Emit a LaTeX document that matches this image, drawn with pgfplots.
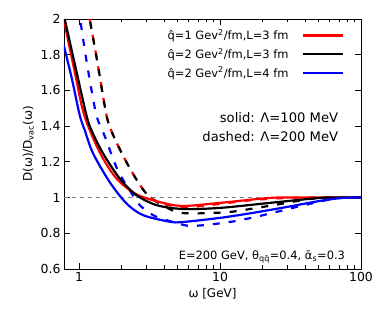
\documentclass[border=0pt]{standalone}
\usepackage{pgfplots}
\pgfplotsset{compat=1.18}
\usepackage{fontspec}
\setmainfont{DejaVu Sans}
\begin{document}
\begin{tikzpicture}
\begin{axis}[
  at={(0,0)}, anchor=south west,
  scale only axis, width=297bp, height=250bp,
  xmode=log, xmin=0.78, xmax=100, ymin=0.6, ymax=2,
  xtick={1,10,100}, xticklabels={1,10,100},
  ytick={0.6,0.8,1.0,1.2,1.4,1.6,1.8,2.0}, yticklabels={0.6,0.8,1,1.2,1.4,1.6,1.8,2},
  /pgf/number format/assume math mode=true,
  tick align=inside, major tick length=6bp, minor tick length=3.5bp,
  axis line style={line width=0.9pt}, every tick/.style={line width=0.8pt, black},
  tick label style={font=\fontsize{12.5}{14}\selectfont},
  label style={font=\fontsize{12}{14}\selectfont},
  xlabel={ω [GeV]}, ylabel={D(ω)/D\textsubscript{vac}(ω)},
  legend style={draw=none, fill=none, at={(0.946,0.97)}, anchor=north east,
    font=\fontsize{11.5}{13}\selectfont, row sep=2.8bp, column sep=11bp, inner sep=1bp},
  legend cell align=right,
  legend plot pos=right,
  legend image code/.code={\draw[#1] (0bp,0bp) -- (40bp,0bp);},
]
\addplot[forget plot, gray, line width=0.8pt, dash pattern=on 4bp off 4bp] coordinates {(0.78,1) (100,1)};
% dashed (Lambda = 200 MeV)
\addplot[forget plot, blue, line width=2.2pt, smooth, dash pattern=on 7bp off 9bp] coordinates {(1.025,1.977) (1.149,1.725) (1.324,1.462) (1.516,1.345) (1.875,1.154) (2.28,1.042) (2.686,0.958) (3.43,0.897) (4.91,0.858) (6.38,0.841) (11.67,0.863) (19.1,0.897) (32.7,0.942) (56.9,0.986) (76,1.0) (100,1.0)};
\addplot[forget plot, red, line width=2.2pt, smooth, dash pattern=on 7bp off 9bp] coordinates {(1.187,2.0) (1.353,1.748) (1.56,1.462) (1.728,1.356) (1.969,1.261) (2.28,1.166) (2.64,1.082) (3.06,1.014) (3.72,0.970) (4.76,0.953) (6.08,0.947) (9.92,0.964) (17,0.986) (29.6,0.998) (40,1.0) (100,1.0)};
\addplot[forget plot, black, line width=2.2pt, smooth, dash pattern=on 7bp off 9bp, dash phase=13bp] coordinates {(1.187,2.0) (1.353,1.748) (1.56,1.462) (1.728,1.356) (1.969,1.261) (2.28,1.166) (2.64,1.082) (3.06,1.014) (3.72,0.967) (4.91,0.919) (6.38,0.911) (8.42,0.914) (11.67,0.919) (18.2,0.942) (29.6,0.970) (43.1,0.992) (60,1.0) (100,1.0)};
% solid (Lambda = 100 MeV)
\addplot[red, line width=2.2pt, smooth] coordinates {(0.776,2.0) (0.93,1.703) (1.085,1.462) (1.41,1.248) (1.84,1.107) (2.52,1.02) (3.72,0.975) (5.42,0.953) (9.92,0.970) (22.4,0.998) (36.5,1.0) (100,1.0)};
\addlegendentry{\^q=1 Gev\textsuperscript{2}/fm,L=3 fm}
\addplot[black, line width=2.2pt, smooth] coordinates {(0.789,2.0) (0.96,1.70) (1.125,1.462) (1.22,1.378) (1.475,1.248) (1.937,1.107) (2.546,1.014) (3.53,0.958) (5.42,0.936) (9.92,0.942) (22.4,0.970) (50.8,0.998) (70,1.0) (100,1.0)};
\addlegendentry{\^q=2 Gev\textsuperscript{2}/fm,L=3 fm}
\addplot[blue, line width=2.2pt, smooth] coordinates {(0.776,1.854) (0.885,1.669) (1.008,1.462) (1.094,1.378) (1.253,1.248) (1.645,1.087) (2.16,0.968) (2.83,0.902) (4.38,0.865) (5.42,0.863) (9.92,0.886) (17.0,0.914) (29.6,0.947) (50.8,0.981) (73.9,0.998) (100,1.0)};
\addlegendentry{\^q=2 Gev\textsuperscript{2}/fm,L=4 fm}
\node[anchor=east, font=\fontsize{13.2}{15}\selectfont] at (axis description cs:0.935,0.604) {solid: Λ=100 MeV};
\node[anchor=east, font=\fontsize{13.2}{15}\selectfont] at (axis description cs:0.935,0.528) {dashed: Λ=200 MeV};
\node[anchor=east, font=\fontsize{11.5}{13}\selectfont] at (axis description cs:0.958,0.048) {E=200 GeV, θ\textsubscript{q\=q}=0.4, \=α\textsubscript{s}=0.3};
\end{axis}
\pgfresetboundingbox
\path[use as bounding box] (-64bp,-46bp) rectangle (323bp,269bp);
\end{tikzpicture}
\end{document}
